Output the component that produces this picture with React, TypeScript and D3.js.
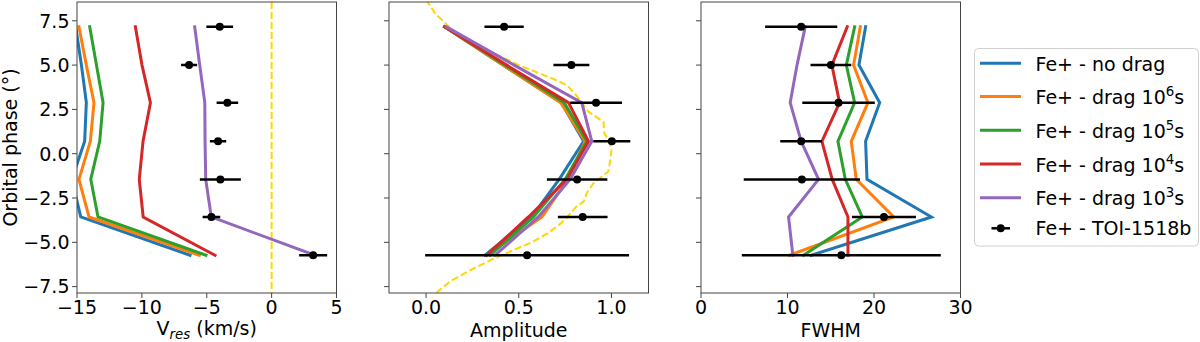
import React from "react";
import * as d3 from "d3";

// ---------- data ----------
const phases = [7.16, 5.0, 2.88, 0.7, -1.45, -3.57, -5.73];

const modelNames = ["no drag", "drag 10^6", "drag 10^5", "drag 10^4", "drag 10^3"];
const modelColors = ["#1f77b4", "#ff7f0e", "#2ca02c", "#d62728", "#9467bd"];

// Vres (km/s)
const vresNoDrag = [-15.1, -14.66, -14.28, -14.41, -15.4, -14.71, -6.29];
const vres1e6 = [-14.85, -14.28, -13.69, -13.97, -14.85, -14.07, -5.57];
const vres1e5 = [-14.02, -13.5, -12.99, -13.25, -13.94, -13.38, -5.06];
const vres1e4 = [-10.5, -9.99, -9.34, -9.91, -10.2, -9.9, -4.36];
const vres1e3 = [-5.93, -5.54, -5.15, -5.13, -5.08, -4.65, 3.33];
const vresObs = [-4.0, -6.36, -3.41, -4.13, -3.95, -4.64, 3.2];
const vresErr = [1.03, 0.62, 0.83, 0.63, 1.58, 0.68, 1.08];

// Amplitude
const ampNoDrag = [0.1, 0.415, 0.73, 0.85, 0.718, 0.57, 0.318];
const amp1e6 = [0.1, 0.415, 0.727, 0.858, 0.765, 0.625, 0.327];
const amp1e5 = [0.1, 0.425, 0.745, 0.867, 0.75, 0.579, 0.345];
const amp1e4 = [0.1, 0.435, 0.768, 0.876, 0.76, 0.552, 0.327];
const amp1e3 = [0.11, 0.475, 0.84, 0.894, 0.777, 0.605, 0.372];
const ampObs = [0.421, 0.784, 0.917, 1.002, 0.815, 0.845, 0.545];
const ampErr = [0.106, 0.097, 0.14, 0.1, 0.163, 0.134, 0.55];

// reference (dashed) amplitude curve
const ampRefPhase = [8.7, 7.9, 7.4, 6.6, 5.9, 5.0, 4.25, 3.87, 3.3, 2.37, 1.8, 1.15, 0.7, 0.2, -0.3, -1.0, -1.7, -2.2, -2.7, -3.0, -3.7, -4.0, -4.5, -5.0, -5.4, -5.9, -6.4, -6.8, -7.2, -7.9];
const ampRefValue = [0.0, 0.05, 0.1, 0.18, 0.32, 0.5, 0.68, 0.76, 0.81, 0.876, 0.957, 0.962, 0.99, 1.0, 0.995, 0.983, 0.9, 0.868, 0.85, 0.81, 0.75, 0.72, 0.655, 0.57, 0.48, 0.37, 0.27, 0.2, 0.13, 0.05];

// FWHM
const fwhmNoDrag = [19.03, 18.26, 20.66, 19.03, 19.19, 26.64, 12.74];
const fwhm1e6 = [18.42, 17.64, 19.3, 17.37, 17.95, 22.28, 10.23];
const fwhm1e5 = [17.76, 16.8, 17.76, 15.83, 16.68, 18.65, 11.85];
const fwhm1e4 = [16.91, 15.13, 16.02, 13.98, 15.17, 16.99, 16.99];
const fwhm1e3 = [12.05, 11.1, 10.31, 11.58, 13.59, 10.12, 10.62];
const fwhmObs = [11.58, 15.02, 15.9, 11.58, 11.66, 21.15, 16.22];
const fwhmErr = [4.17, 2.36, 4.19, 2.42, 6.72, 3.7, 11.5];

// ticks
const yTicks = [-7.5, -5.0, -2.5, 0.0, 2.5, 5.0, 7.5];
const vresTicks = [-15, -10, -5, 0, 5];
const ampTicks = [0.0, 0.5, 1.0];
const fwhmTicks = [0, 10, 20, 30];

const obsName = "Fe+ - TOI-1518b";

// ---------- layout ----------
const FONT = "DejaVu Sans, Verdana, sans-serif";
const FS = 19;
const TOP = 2;
const BOTTOM = 293;
const PW = 259.5;
const LEFTS = [77, 389, 701];

const fmtMinus = (s: string) => s.replace("-", "\u2212");

type PanelProps = {
  id: string;
  left: number;
  x: d3.ScaleLinear<number, number>;
  y: d3.ScaleLinear<number, number>;
  models: number[][];
  obs: number[];
  err: number[];
  xTicks: number[];
  xFmt: (v: number) => string;
  showYLabels: boolean;
  xLabel: React.ReactNode;
  extra?: React.ReactNode;
};

function Panel(p: PanelProps) {
  const { left, x, y } = p;
  const line = d3
    .line<number>()
    .x((d) => x(d))
    .y((_, i) => y(phases[i]));
  return (
    <g>
      <defs>
        <clipPath id={`clip-${p.id}`}>
          <rect x={left} y={TOP} width={PW} height={BOTTOM - TOP} />
        </clipPath>
      </defs>
      <g clipPath={`url(#clip-${p.id})`}>
        {p.extra}
        {p.models.map((m, k) => (
          <path
            key={k}
            d={line(m) || ""}
            fill="none"
            stroke={modelColors[k]}
            strokeWidth={3}
            strokeLinejoin="miter"
            strokeLinecap="square"
          />
        ))}
        {p.obs.map((v, i) => (
          <g key={i}>
            <line
              x1={x(v - p.err[i])}
              x2={x(v + p.err[i])}
              y1={y(phases[i])}
              y2={y(phases[i])}
              stroke="#000"
              strokeWidth={2.5}
            />
            <circle cx={x(v)} cy={y(phases[i])} r={4} fill="#000" />
          </g>
        ))}
      </g>
      <rect
        x={left}
        y={TOP}
        width={PW}
        height={BOTTOM - TOP}
        fill="none"
        stroke="#444"
        strokeWidth={1}
      />
      {yTicks.map((t) => (
        <g key={t}>
          <line x1={left - 5} x2={left} y1={y(t)} y2={y(t)} stroke="#444" strokeWidth={1} />
          {p.showYLabels && (
            <text
              x={left - 7.5}
              y={y(t)}
              dy="0.36em"
              textAnchor="end"
              fontFamily={FONT}
              fontSize={FS}
              fill="#000"
            >
              {fmtMinus(t.toFixed(1))}
            </text>
          )}
        </g>
      ))}
      {p.xTicks.map((t) => (
        <g key={t}>
          <line x1={x(t)} x2={x(t)} y1={BOTTOM} y2={BOTTOM + 5} stroke="#444" strokeWidth={1} />
          <text
            x={x(t)}
            y={314}
            textAnchor="middle"
            fontFamily={FONT}
            fontSize={FS}
            fill="#000"
          >
            {fmtMinus(p.xFmt(t))}
          </text>
        </g>
      ))}
      {p.xLabel}
    </g>
  );
}

function LegendLabel({ name }: { name: string }) {
  const parts = name.split("^");
  if (parts.length === 1) return <>{`Fe+ - ${name}`}</>;
  return (
    <>
      {`Fe+ - ${parts[0]}`}
      <tspan dy={-8} fontSize={FS * 0.7}>
        {parts[1]}
      </tspan>
      <tspan dy={8}>s</tspan>
    </>
  );
}

export default function App() {
  const y = d3.scaleLinear().domain([-7.86, 8.56]).range([BOTTOM, TOP]);
  const xV = d3.scaleLinear().domain([-15, 5]).range([LEFTS[0], LEFTS[0] + PW]);
  const xA = d3.scaleLinear().domain([-0.2, 1.2]).range([LEFTS[1], LEFTS[1] + PW]);
  const xF = d3.scaleLinear().domain([0, 30]).range([LEFTS[2], LEFTS[2] + PW]);

  const refLine = d3
    .line<number>()
    .x((d) => xA(d))
    .y((_, i) => y(ampRefPhase[i]));

  const legendRows = [63.3, 96.5, 130.3, 164, 197.7];

  return (
    <svg
      width={1200}
      height={342}
      style={{ position: "absolute", left: 0, top: 0, background: "#fff" }}
    >
      <rect x={0} y={0} width={1200} height={342} fill="#fff" />
      <text
        transform={`translate(16.5,${(TOP + BOTTOM) / 2}) rotate(-90)`}
        textAnchor="middle"
        fontFamily={FONT}
        fontSize={FS}
        fill="#000"
      >
        Orbital phase (°)
      </text>

      <Panel
        id="v"
        left={LEFTS[0]}
        x={xV}
        y={y}
        models={[vresNoDrag, vres1e6, vres1e5, vres1e4, vres1e3]}
        obs={vresObs}
        err={vresErr}
        xTicks={vresTicks}
        xFmt={(v) => String(v)}
        showYLabels={true}
        extra={
          <line
            x1={xV(0)}
            x2={xV(0)}
            y1={TOP}
            y2={BOTTOM}
            stroke="#FFD700"
            strokeWidth={2}
            strokeDasharray="7,3"
          />
        }
        xLabel={
          <text
            x={LEFTS[0] + PW / 2}
            y={335}
            textAnchor="middle"
            fontFamily={FONT}
            fontSize={FS}
            fill="#000"
          >
            V
            <tspan dy={4} fontSize={FS * 0.7} fontStyle="italic">
              res
            </tspan>
            <tspan dy={-4}> (km/s)</tspan>
          </text>
        }
      />
      <Panel
        id="a"
        left={LEFTS[1]}
        x={xA}
        y={y}
        models={[ampNoDrag, amp1e6, amp1e5, amp1e4, amp1e3]}
        obs={ampObs}
        err={ampErr}
        xTicks={ampTicks}
        xFmt={(v) => v.toFixed(1)}
        showYLabels={false}
        extra={
          <path
            d={refLine(ampRefValue) || ""}
            fill="none"
            stroke="#FFD700"
            strokeWidth={2}
            strokeDasharray="7,3"
          />
        }
        xLabel={
          <text
            x={LEFTS[1] + PW / 2}
            y={336.5}
            textAnchor="middle"
            fontFamily={FONT}
            fontSize={FS}
            fill="#000"
          >
            Amplitude
          </text>
        }
      />
      <Panel
        id="f"
        left={LEFTS[2]}
        x={xF}
        y={y}
        models={[fwhmNoDrag, fwhm1e6, fwhm1e5, fwhm1e4, fwhm1e3]}
        obs={fwhmObs}
        err={fwhmErr}
        xTicks={fwhmTicks}
        xFmt={(v) => String(v)}
        showYLabels={false}
        xLabel={
          <text
            x={LEFTS[2] + PW / 2}
            y={336.5}
            textAnchor="middle"
            fontFamily={FONT}
            fontSize={FS}
            fill="#000"
          >
            FWHM
          </text>
        }
      />

      {/* legend */}
      <g>
        <rect
          x={974.5}
          y={48.5}
          width={224}
          height={197.5}
          rx={4}
          fill="#fff"
          fillOpacity={0.8}
          stroke="#d0d0d0"
          strokeWidth={1}
        />
        {modelNames.map((n, i) => (
          <g key={n}>
            <line
              x1={980}
              x2={1021}
              y1={legendRows[i]}
              y2={legendRows[i]}
              stroke={modelColors[i]}
              strokeWidth={3}
            />
            <text
              x={1035.5}
              y={legendRows[i] + 7.5}
              fontFamily={FONT}
              fontSize={FS}
              fill="#000"
            >
              <LegendLabel name={n} />
            </text>
          </g>
        ))}
        <g>
          <line x1={991.5} x2={1010} y1={228.3} y2={228.3} stroke="#000" strokeWidth={2.5} />
          <circle cx={1000.7} cy={228.3} r={4} fill="#000" />
          <text x={1035.5} y={228.3 + 7} fontFamily={FONT} fontSize={FS} fill="#000">
            {obsName}
          </text>
        </g>
      </g>
    </svg>
  );
}
